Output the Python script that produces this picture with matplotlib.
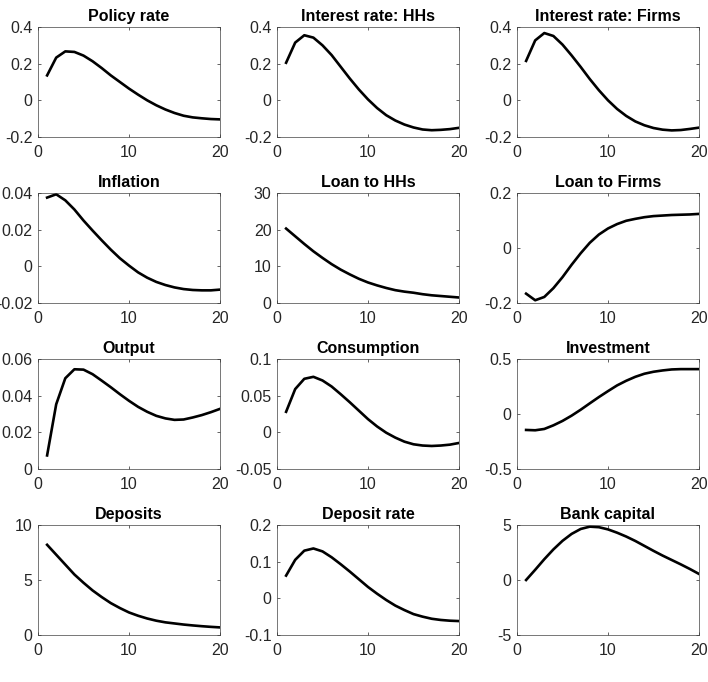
import matplotlib
matplotlib.use("Agg")
import matplotlib.pyplot as plt
import numpy as np

plt.rcParams["font.family"] = ["Liberation Sans", "DejaVu Sans"]
plt.rcParams["axes.unicode_minus"] = False

periods = list(range(1, 21))

policy_rate = [0.136, 0.233, 0.267, 0.264, 0.244, 0.213, 0.176, 0.136, 0.100, 0.064,
               0.031, 0.000, -0.027, -0.050, -0.069, -0.084, -0.093, -0.098, -0.102, -0.104]
rate_hhs = [0.205, 0.315, 0.355, 0.342, 0.300, 0.247, 0.183, 0.119, 0.059, 0.005,
            -0.042, -0.081, -0.110, -0.132, -0.148, -0.159, -0.163, -0.161, -0.157, -0.150]
rate_firms = [0.215, 0.327, 0.367, 0.351, 0.304, 0.245, 0.182, 0.116, 0.055, 0.000,
              -0.047, -0.085, -0.115, -0.136, -0.151, -0.160, -0.164, -0.162, -0.156, -0.149]
inflation = [0.0375, 0.0393, 0.0360, 0.0310, 0.0250, 0.0195, 0.0142, 0.0091, 0.0044, 0.0004,
             -0.0033, -0.0062, -0.0085, -0.0102, -0.0115, -0.0124, -0.0129, -0.0131, -0.0131, -0.0127]
loan_hhs = [20.3, 18.2, 16.1, 14.1, 12.3, 10.6, 9.1, 7.8, 6.6, 5.6,
            4.8, 4.1, 3.5, 3.1, 2.8, 2.4, 2.1, 1.9, 1.7, 1.5]
loan_firms = [-0.166, -0.190, -0.178, -0.146, -0.106, -0.061, -0.019, 0.019, 0.049, 0.071,
              0.087, 0.099, 0.106, 0.112, 0.116, 0.118, 0.120, 0.121, 0.122, 0.124]
output = [0.0074, 0.0353, 0.0495, 0.0544, 0.0542, 0.0517, 0.0482, 0.0446, 0.0408, 0.0372,
          0.0339, 0.0312, 0.0290, 0.0276, 0.0268, 0.0270, 0.0281, 0.0294, 0.0310, 0.0328]
consumption = [0.028, 0.059, 0.073, 0.0757, 0.0707, 0.0625, 0.052, 0.041, 0.0295, 0.018,
               0.008, -0.0005, -0.0072, -0.0127, -0.0163, -0.018, -0.0186, -0.018, -0.0168, -0.0145]
investment = [-0.145, -0.148, -0.136, -0.103, -0.063, -0.015, 0.039, 0.097, 0.154, 0.208,
              0.260, 0.302, 0.338, 0.366, 0.384, 0.396, 0.405, 0.408, 0.408, 0.408]
deposits = [8.2, 7.3, 6.4, 5.5, 4.75, 4.05, 3.45, 2.9, 2.45, 2.05,
            1.75, 1.5, 1.3, 1.15, 1.05, 0.95, 0.87, 0.8, 0.74, 0.69]
deposit_rate = [0.062, 0.105, 0.130, 0.136, 0.128, 0.112, 0.093, 0.073, 0.052, 0.031,
                0.0126, -0.0045, -0.0198, -0.032, -0.043, -0.050, -0.0557, -0.059, -0.061, -0.062]
bank_capital = [0.0, 0.93, 1.89, 2.78, 3.56, 4.19, 4.64, 4.85, 4.80, 4.60,
                4.30, 3.95, 3.55, 3.10, 2.65, 2.22, 1.82, 1.42, 1.00, 0.55]

titles = ["Policy rate", "Interest rate: HHs", "Interest rate: Firms",
          "Inflation", "Loan to HHs", "Loan to Firms",
          "Output", "Consumption", "Investment",
          "Deposits", "Deposit rate", "Bank capital"]
series = [policy_rate, rate_hhs, rate_firms, inflation, loan_hhs, loan_firms,
          output, consumption, investment, deposits, deposit_rate, bank_capital]
yticks = [[-0.2, 0, 0.2, 0.4], [-0.2, 0, 0.2, 0.4], [-0.2, 0, 0.2, 0.4],
          [-0.02, 0, 0.02, 0.04], [0, 10, 20, 30], [-0.2, 0, 0.2],
          [0, 0.02, 0.04, 0.06], [-0.05, 0, 0.05, 0.1], [-0.5, 0, 0.5],
          [0, 5, 10], [-0.1, 0, 0.1, 0.2], [-5, 0, 5]]
yticklabels = [["-0.2", "0", "0.2", "0.4"], ["-0.2", "0", "0.2", "0.4"], ["-0.2", "0", "0.2", "0.4"],
               ["-0.02", "0", "0.02", "0.04"], ["0", "10", "20", "30"], ["-0.2", "0", "0.2"],
               ["0", "0.02", "0.04", "0.06"], ["-0.05", "0", "0.05", "0.1"], ["-0.5", "0", "0.5"],
               ["0", "5", "10"], ["-0.1", "0", "0.1", "0.2"], ["-5", "0", "5"]]

fig = plt.figure(figsize=(7.08, 6.82), dpi=100)

lefts = [38 / 708, 277 / 708, 517 / 708]
tops = [27, 193, 359, 525]
w = 182 / 708
h = 110 / 682

for i in range(12):
    r, c = divmod(i, 3)
    ax = fig.add_axes([lefts[c], 1 - (tops[r] + 110) / 682, w, h])
    ax.plot(periods, series[i], color="black", lw=1.9)
    ax.set_xlim(0, 20)
    ax.set_xticks([0, 10, 20])
    ax.set_ylim(yticks[i][0], yticks[i][-1])
    ax.set_yticks(yticks[i])
    ax.set_yticklabels(yticklabels[i])
    ax.set_title(titles[i], fontsize=11.5, fontweight="bold", pad=4)
    ax.tick_params(direction="in", length=2.5, width=0.5, labelsize=11.5,
                   colors="#262626", top=True, right=True)
    ax.tick_params(axis="x", pad=6)
    ax.tick_params(axis="y", pad=4)
    for s in ax.spines.values():
        s.set_color("#404040")
        s.set_linewidth(0.5)

fig.savefig("out.png", dpi=100)
